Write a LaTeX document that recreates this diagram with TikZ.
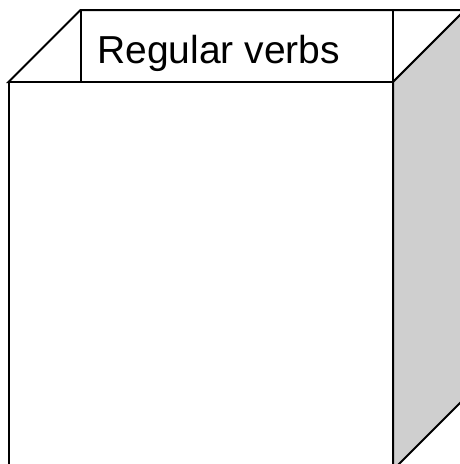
\documentclass[tikz,border=0pt]{standalone}
\usepackage{fontspec}
\setmainfont{Liberation Sans}
\usetikzlibrary{positioning}

\begin{document}
\begin{tikzpicture}[
        x=1pt, y=-1pt,
        edge/.style={draw=black, line width=2pt, line join=miter},
        side/.style={edge, fill=black!19},
        face/.style={edge, fill=white},
        title/.style={font=\fontsize{39}{41}\selectfont, anchor=base west, inner sep=0pt}
    ]
        \useasboundingbox (0,0) rectangle (460,464);
        \clip (0,0) rectangle (460,464);

        % Faces of the box
        \path[face] (8.5,82) -- (80.5,10) -- (465,10) -- (393,82) -- cycle;
        \path[side] (393,82) -- (465,10) -- (465,398) -- (393,470) -- cycle;
        \path[face] (8.5,82) rectangle (393,470);

        % Label
        \path[edge] (80.5,10) rectangle (393,82);
        \node[title] (verbs) at (97,63) {Regular verbs};
    \end{tikzpicture}
\end{document}
